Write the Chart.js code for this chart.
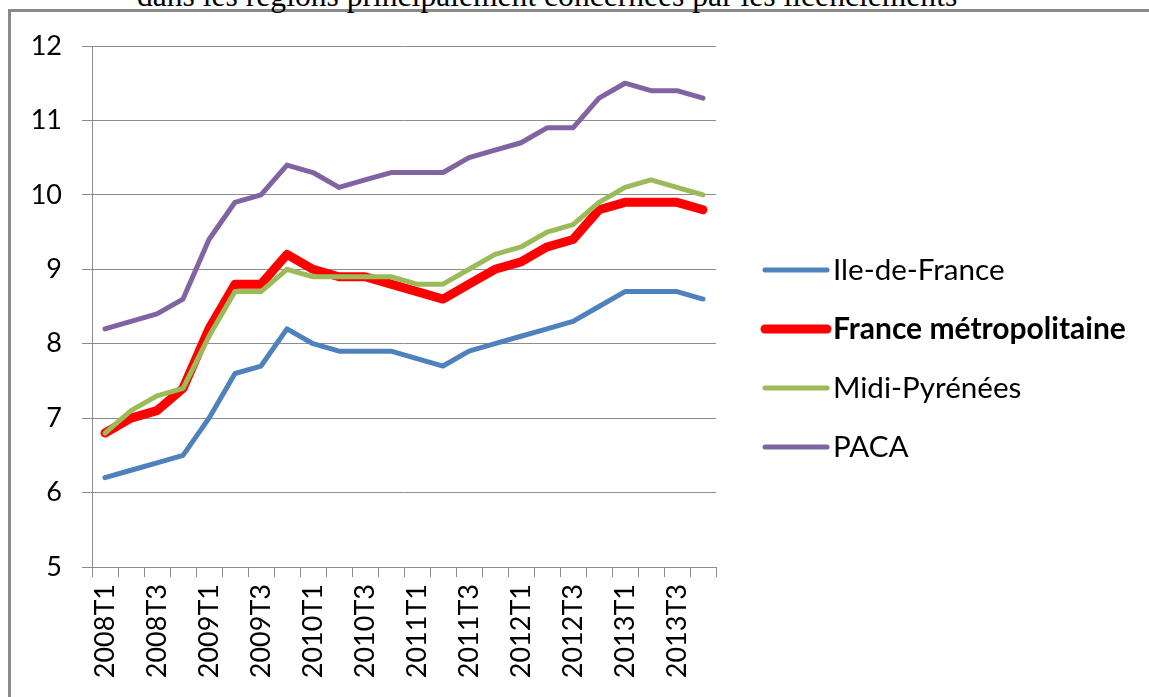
<!DOCTYPE html>
<html>
<head>
<meta charset="utf-8">
<script src="https://cdn.jsdelivr.net/npm/chart.js@4.4.1/dist/chart.umd.min.js"></script>
<style>
html,body{margin:0;padding:0;background:#fff;width:1149px;height:697px;overflow:hidden;}
#frame{position:absolute;left:8px;top:9px;width:1300px;height:900px;border-left:3px solid #8a8a8a;border-top:3px solid #8a8a8a;box-sizing:border-box;}
#title{position:absolute;left:137px;top:-20px;font-family:'Liberation Serif','Times New Roman',serif;font-size:31.6px;line-height:31.6px;white-space:nowrap;color:#000;}
#wrap{position:absolute;left:0;top:0;width:1149px;height:697px;}
</style>
</head>
<body>
<div id="frame"></div>
<div id="title">dans les régions principalement concernées par les licenciements</div>
<div id="wrap"><canvas id="c" width="1149" height="697"></canvas></div>
<script>
const categories = ['2008T1','2008T2','2008T3','2008T4','2009T1','2009T2','2009T3','2009T4',
  '2010T1','2010T2','2010T3','2010T4','2011T1','2011T2','2011T3','2011T4',
  '2012T1','2012T2','2012T3','2012T4','2013T1','2013T2','2013T3','2013T4'];
const seriesNames = ['Ile-de-France','France métropolitaine','Midi-Pyrénées','PACA'];
const ileDeFrance = [6.2,6.3,6.4,6.5,7.0,7.6,7.7,8.2,8.0,7.9,7.9,7.9,7.8,7.7,7.9,8.0,8.1,8.2,8.3,8.5,8.7,8.7,8.7,8.6];
const franceMetro = [6.8,7.0,7.1,7.4,8.2,8.8,8.8,9.2,9.0,8.9,8.9,8.8,8.7,8.6,8.8,9.0,9.1,9.3,9.4,9.8,9.9,9.9,9.9,9.8];
const midiPyrenees = [6.8,7.1,7.3,7.4,8.1,8.7,8.7,9.0,8.9,8.9,8.9,8.9,8.8,8.8,9.0,9.2,9.3,9.5,9.6,9.9,10.1,10.2,10.1,10.0];
const paca = [8.2,8.3,8.4,8.6,9.4,9.9,10.0,10.4,10.3,10.1,10.2,10.3,10.3,10.3,10.5,10.6,10.7,10.9,10.9,11.3,11.5,11.4,11.4,11.3];
const yTicks = [5,6,7,8,9,10,11,12];

const colors = ['#4F81BD','#FF0000','#9BBB59','#8064A2'];
const widths = [5,9,5,5];
const values = [ileDeFrance, franceMetro, midiPyrenees, paca];
const gridColor = '#8c8c8c';
const tickFont = {family:'Lato', size:27};

const legendPlugin = {
  id:'customLegend',
  afterDraw(chart){
    const ctx = chart.ctx;
    ctx.save();
    chart.data.datasets.forEach((ds,i)=>{
      const y = 270 + i*59;
      ctx.beginPath();
      ctx.strokeStyle = ds.borderColor;
      ctx.lineWidth = ds.borderWidth;
      ctx.lineCap = 'round';
      ctx.moveTo(765, y);
      ctx.lineTo(827, y);
      ctx.stroke();
      ctx.fillStyle = '#000';
      ctx.textBaseline = 'middle';
      ctx.textAlign = 'left';
      ctx.font = (i===1 ? 'bold 30px Lato' : '29.6px Lato');
      ctx.fillText(ds.label, 833, y);
    });
    ctx.restore();
  }
};

new Chart(document.getElementById('c'), {
  type:'line',
  data:{
    labels: categories,
    datasets: seriesNames.map((n,i)=>({
      label:n, data:values[i], borderColor:colors[i], backgroundColor:colors[i],
      borderWidth:widths[i], pointRadius:0, tension:0, fill:false,
      borderCapStyle:'round', borderJoinStyle:'round', order:4-i
    }))
  },
  options:{
    responsive:false, animation:false, devicePixelRatio:1,
    layout:{padding:{left:0,right:433,top:46,bottom:0}},
    plugins:{legend:{display:false}, tooltip:{enabled:false}, title:{display:false}},
    scales:{
      x:{
        type:'category', offset:true,
        grid:{display:true, offset:true, drawOnChartArea:false, drawTicks:true, tickLength:10, color:gridColor, tickColor:gridColor, lineWidth:1},
        border:{display:true, color:gridColor, width:1},
        ticks:{autoSkip:false, maxRotation:90, minRotation:90, padding:7, font:tickFont, color:'#000',
          callback:(v,i)=> i%2===0 ? categories[i] : ''},
        afterFit:(s)=>{ s.height = 130; }
      },
      y:{
        min:yTicks[0], max:yTicks[yTicks.length-1],
        afterBuildTicks:(s)=>{ s.ticks = yTicks.map(v=>({value:v})); },
        ticks:{padding:20, font:tickFont, color:'#000'},
        grid:{color:gridColor, tickColor:gridColor, tickLength:10, drawTicks:true, lineWidth:1},
        border:{display:true, color:gridColor, width:1},
        afterFit:(s)=>{ s.width = 92; }
      }
    }
  },
  plugins:[legendPlugin]
});
</script>
</body>
</html>
